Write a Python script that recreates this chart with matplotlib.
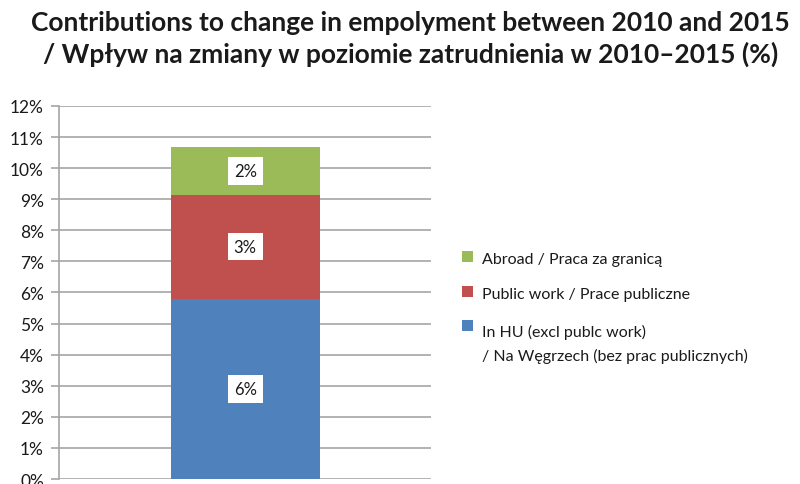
import matplotlib
matplotlib.use("Agg")
import matplotlib.pyplot as plt
from matplotlib.patches import Rectangle
from matplotlib.ticker import FuncFormatter, MultipleLocator

# stacked from bottom to top
SERIES = [
    "In HU (excl publc work)\n/ Na Węgrzech (bez prac publicznych)",
    "Public work / Prace publiczne",
    "Abroad / Praca za granicą",
]
VALUES = [5.80, 3.35, 1.53]
LABELS = ["6%", "3%", "2%"]
COLORS = ["#4f81bd", "#c0504d", "#9bbb59"]
TITLE = ("Contributions to change in empolyment between 2010 and 2015\n"
         "/ Wpływ na zmiany w poziomie zatrudnienia w 2010–2015 (%)")

plt.rcParams["font.family"] = ["Lato", "DejaVu Sans"]

fig = plt.figure(figsize=(8, 4.85), dpi=100)
ax = fig.add_axes([0.074, 0.0103, 0.465, 0.7691])

bottom = 0.0
for val, lab, col in zip(VALUES, LABELS, COLORS):
    ax.bar(0, val, width=0.4, bottom=bottom, color=col, zorder=3)
    ax.text(0, bottom + val / 2, lab, ha="center", va="center", fontsize=12,
            color="#1a1a1a", zorder=4,
            bbox=dict(boxstyle="square,pad=0.35", fc="white", ec="none"))
    bottom += val

ax.set_xlim(-0.5, 0.5)
ax.set_ylim(0, 12)
ax.yaxis.set_major_locator(MultipleLocator(1))
ax.yaxis.set_major_formatter(FuncFormatter(lambda v, _: f"{v:.0f}%"))
ax.set_xticks([])
ax.grid(axis="y", color="#a6a6a6", linewidth=1.2, zorder=0)
for side in ["top", "right", "bottom"]:
    ax.spines[side].set_visible(False)
ax.spines["left"].set_color("#a6a6a6")
ax.spines["left"].set_linewidth(1.2)
ax.tick_params(axis="y", length=6, width=1.2, color="#a6a6a6",
               labelsize=12.5, labelcolor="#1a1a1a", pad=5)

fig.suptitle(TITLE, fontsize=19, fontweight="bold", color="#1a1a1a",
             x=0.513, y=0.978, linespacing=1.35)

# legend, top entry first
leg_y = [0.464, 0.392, 0.330]
for y, name, col in zip(leg_y, SERIES[::-1], COLORS[::-1]):
    multi = "\n" in name
    fig.patches.append(Rectangle((0.578, y - (0.015 if multi else 0.007)), 0.0135, 0.0225,
                                 transform=fig.transFigure, fc=col, ec="none"))
    fig.text(0.602, y, name, fontsize=11.5, color="#1a1a1a",
             va="top" if multi else "center", linespacing=1.75,
             transform=fig.transFigure)

fig.savefig("out.png", dpi=100)
